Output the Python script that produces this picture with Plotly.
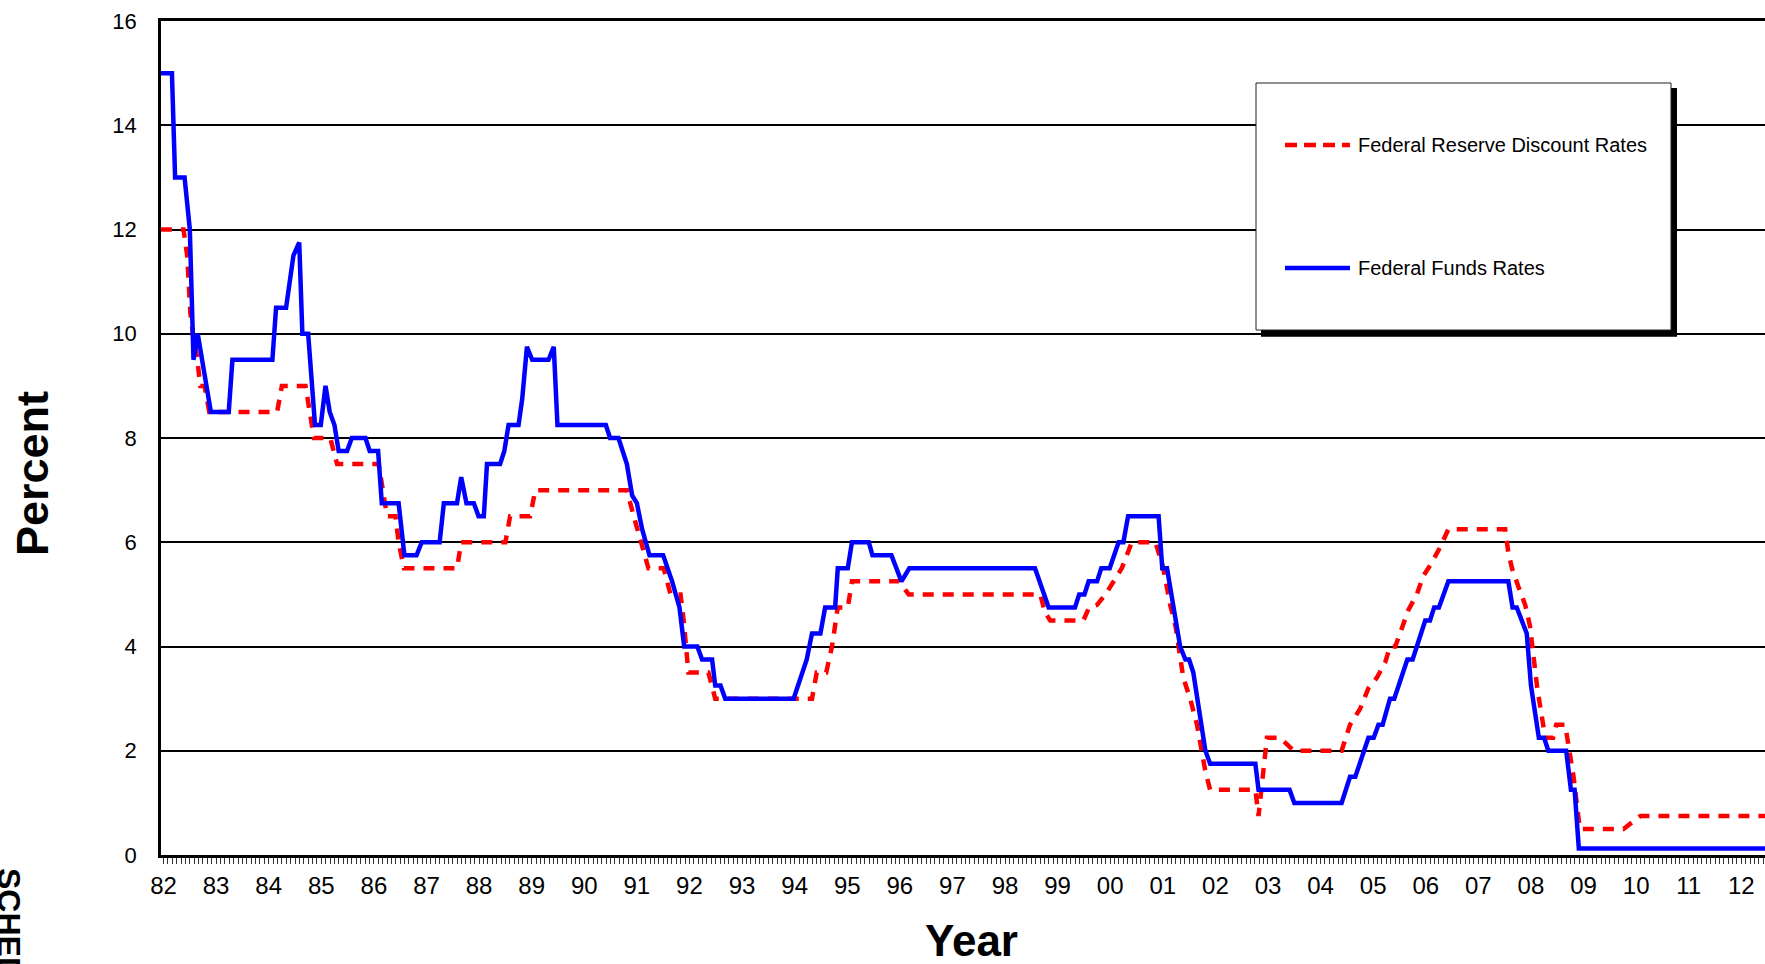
import plotly.graph_objects as go

# ---------------- data (decimal years, percent) ----------------
funds_years = [
    1981.95, 1982.16, 1982.22, 1982.40, 1982.50, 1982.57, 1982.65, 1982.90, 1983.24, 1983.31,
    1984.07, 1984.14, 1984.33, 1984.47, 1984.58, 1984.64, 1984.75, 1984.88, 1984.99, 1985.08,
    1985.16, 1985.25, 1985.33, 1985.49, 1985.58, 1985.84, 1985.92, 1986.08, 1986.15, 1986.47,
    1986.58, 1986.81, 1986.91, 1987.25, 1987.33, 1987.58, 1987.66, 1987.76, 1987.90, 1987.99,
    1988.09, 1988.15, 1988.40, 1988.48, 1988.56, 1988.75, 1988.82, 1988.91, 1989.01, 1989.32,
    1989.42, 1989.49, 1990.41, 1990.49, 1990.65, 1990.81, 1990.91, 1991.00, 1991.10, 1991.16,
    1991.24, 1991.50, 1991.67, 1991.81, 1991.90, 1992.15, 1992.24, 1992.43, 1992.49, 1992.59,
    1992.68, 1993.98, 1994.23, 1994.33, 1994.49, 1994.58, 1994.77, 1994.82, 1995.01, 1995.09,
    1995.41, 1995.48, 1995.84, 1996.03, 1996.18, 1998.57, 1998.83, 1999.33, 1999.41, 1999.51,
    1999.59, 1999.75, 1999.83, 1999.99, 2000.16, 2000.25, 2000.34, 2000.92, 2000.96, 2000.99,
    2001.08, 2001.33, 2001.43, 2001.50, 2001.58, 2001.81, 2001.90, 2002.76, 2002.82, 2003.41,
    2003.50, 2004.40, 2004.56, 2004.66, 2004.91, 2005.01, 2005.10, 2005.18, 2005.32, 2005.40,
    2005.65, 2005.75, 2005.99, 2006.08, 2006.16, 2006.25, 2006.43, 2007.57, 2007.65, 2007.73,
    2007.92, 2008.00, 2008.15, 2008.25, 2008.33, 2008.67, 2008.76, 2008.83, 2008.91, 2012.50,
]
funds_rates = [
    15.0, 15.0, 13.0, 13.0, 12.0, 9.5, 10.0, 8.5, 8.5, 9.5,
    9.5, 10.5, 10.5, 11.5, 11.75, 10.0, 10.0, 8.25, 8.25, 9.0,
    8.5, 8.25, 7.75, 7.75, 8.0, 8.0, 7.75, 7.75, 6.75, 6.75,
    5.75, 5.75, 6.0, 6.0, 6.75, 6.75, 7.25, 6.75, 6.75, 6.5,
    6.5, 7.5, 7.5, 7.75, 8.25, 8.25, 8.75, 9.75, 9.5, 9.5,
    9.75, 8.25, 8.25, 8.0, 8.0, 7.5, 6.9, 6.75, 6.25, 6.0,
    5.75, 5.75, 5.25, 4.75, 4.0, 4.0, 3.75, 3.75, 3.25, 3.25,
    3.0, 3.0, 3.75, 4.25, 4.25, 4.75, 4.75, 5.5, 5.5, 6.0,
    6.0, 5.75, 5.75, 5.25, 5.5, 5.5, 4.75, 4.75, 5.0, 5.0,
    5.25, 5.25, 5.5, 5.5, 6.0, 6.0, 6.5, 6.5, 6.0, 5.5,
    5.5, 4.0, 3.75, 3.75, 3.5, 2.0, 1.75, 1.75, 1.25, 1.25,
    1.0, 1.0, 1.5, 1.5, 2.25, 2.25, 2.5, 2.5, 3.0, 3.0,
    3.75, 3.75, 4.5, 4.5, 4.75, 4.75, 5.25, 5.25, 4.75, 4.75,
    4.25, 3.25, 2.25, 2.25, 2.0, 2.0, 1.25, 1.25, 0.125, 0.125,
]

discount_years = [
    1981.95, 1982.38, 1982.45, 1982.51, 1982.57, 1982.63, 1982.70, 1982.78, 1982.87, 1984.16,
    1984.25, 1984.70, 1984.78, 1984.86, 1985.17, 1985.30, 1986.09, 1986.17, 1986.25, 1986.41,
    1986.47, 1986.57, 1987.58, 1987.66, 1988.50, 1988.59, 1988.97, 1989.07, 1990.81, 1990.94,
    1991.07, 1991.22, 1991.51, 1991.64, 1991.83, 1991.89, 1991.98, 1992.36, 1992.49, 1994.33,
    1994.42, 1994.60, 1994.71, 1994.82, 1995.01, 1995.09, 1995.98, 1996.17, 1998.67, 1998.76,
    1998.86, 1999.49, 1999.60, 1999.75, 1999.91, 2000.06, 2000.22, 2000.41, 2000.86, 2001.01,
    2001.14, 2001.24, 2001.39, 2001.52, 2001.65, 2001.81, 2001.90, 2002.76, 2002.82, 2002.98,
    2003.23, 2003.49, 2004.40, 2004.56, 2004.75, 2004.91, 2005.07, 2005.23, 2005.32, 2005.42,
    2005.54, 2005.67, 2005.83, 2005.95, 2006.11, 2006.27, 2006.43, 2007.51, 2007.57, 2007.64,
    2007.76, 2007.89, 2007.98, 2008.05, 2008.12, 2008.20, 2008.27, 2008.42, 2008.48, 2008.65,
    2008.70, 2008.81, 2008.93, 2009.76, 2010.08, 2012.50,
]
discount_rates = [
    12.0, 12.0, 11.5, 10.4, 9.9, 9.6, 9.0, 9.0, 8.5, 8.5,
    9.0, 9.0, 8.5, 8.0, 8.0, 7.5, 7.5, 7.0, 6.5, 6.5,
    6.0, 5.5, 5.5, 6.0, 6.0, 6.5, 6.5, 7.0, 7.0, 6.5,
    6.0, 5.5, 5.5, 5.0, 5.0, 4.5, 3.5, 3.5, 3.0, 3.0,
    3.5, 3.5, 4.0, 4.75, 4.75, 5.25, 5.25, 5.0, 5.0, 4.65,
    4.5, 4.5, 4.75, 4.8, 5.0, 5.25, 5.5, 6.0, 6.0, 5.5,
    4.8, 4.4, 3.4, 3.0, 2.5, 1.6, 1.25, 1.25, 0.75, 2.25,
    2.25, 2.0, 2.0, 2.5, 2.8, 3.2, 3.4, 3.7, 4.0, 4.0,
    4.35, 4.7, 5.0, 5.35, 5.6, 5.9, 6.25, 6.25, 5.8, 5.5,
    5.15, 4.8, 4.4, 3.8, 3.2, 2.7, 2.25, 2.25, 2.5, 2.5,
    2.2, 1.5, 0.5, 0.5, 0.75, 0.75,
]

tick_years = list(range(1982, 2013))
tick_labels = ["82", "83", "84", "85", "86", "87", "88", "89", "90", "91",
               "92", "93", "94", "95", "96", "97", "98", "99", "00", "01",
               "02", "03", "04", "05", "06", "07", "08", "09", "10", "11", "12"]
y_ticks = [0, 2, 4, 6, 8, 10, 12, 14, 16]

series_names = ["Federal Reserve Discount Rates", "Federal Funds Rates"]

# ---------------- layout geometry (pixels) ----------------
W, H = 1765, 964
L, T, B = 161, 21, 855
FONT = "Liberation Sans, Arial, sans-serif"


def px(x):
    return (x - L) / (W - L)


def py(y):
    return (B - y) / (B - T)


fig = go.Figure()
fig.add_trace(go.Scatter(
    x=discount_years, y=discount_rates, mode="lines", name=series_names[0],
    line=dict(color="#FF0000", width=4.5, dash="11px,9px"), showlegend=False))
fig.add_trace(go.Scatter(
    x=funds_years, y=funds_rates, mode="lines", name=series_names[1],
    line=dict(color="#0000FF", width=4.5), showlegend=False))

shapes = [
    # legend shadow and box
    dict(type="rect", xref="paper", yref="paper", x0=px(1261), x1=px(1677), y0=py(336.7), y1=py(88),
         fillcolor="black", line=dict(width=0), layer="above"),
    dict(type="rect", xref="paper", yref="paper", x0=px(1256), x1=px(1671), y0=py(330), y1=py(83),
         fillcolor="white", line=dict(color="#222", width=1), layer="above"),
    # legend samples
    dict(type="line", xref="paper", yref="paper", x0=px(1285), x1=px(1350), y0=py(145), y1=py(145),
         line=dict(color="#FF0000", width=4.5, dash="12px,7px"), layer="above"),
    dict(type="line", xref="paper", yref="paper", x0=px(1285), x1=px(1350), y0=py(268), y1=py(268),
         line=dict(color="#0000FF", width=4.5), layer="above"),
]

annotations = [
    dict(text=series_names[0], xref="paper", yref="paper", x=px(1356), y=py(145),
         xanchor="left", yanchor="middle", showarrow=False, font=dict(family=FONT, size=20, color="black")),
    dict(text=series_names[1], xref="paper", yref="paper", x=px(1356), y=py(268),
         xanchor="left", yanchor="middle", showarrow=False, font=dict(family=FONT, size=20, color="black")),
    dict(text="<b>Percent</b>", xref="paper", yref="paper", x=px(33), y=py(474), textangle=-90,
         xanchor="center", yanchor="middle", showarrow=False, font=dict(family=FONT, size=45, color="black")),
    dict(text="<b>Year</b>", xref="paper", yref="paper", x=px(971), y=py(940),
         xanchor="center", yanchor="middle", showarrow=False, font=dict(family=FONT, size=44, color="black")),
    dict(text="<b>SCHEDULE</b>", xref="paper", yref="paper", x=px(9), y=py(866), textangle=90,
         xanchor="center", yanchor="top", showarrow=False, font=dict(family=FONT, size=32, color="black")),
]

fig.update_layout(
    width=W, height=H, autosize=False,
    margin=dict(l=L, r=0, t=T, b=H - B, pad=0),
    paper_bgcolor="white", plot_bgcolor="white",
    font=dict(family=FONT, color="black"),
    shapes=shapes, annotations=annotations,
    xaxis=dict(
        range=[1981.952, 2012.45], tickmode="array", tickvals=tick_years, ticktext=tick_labels,
        ticks="outside", ticklen=6, tickwidth=1, tickcolor="#333",
        minor=dict(tick0=1982, dtick=1 / 12, ticks="outside", ticklen=6, tickwidth=1,
                   tickcolor="#333", showgrid=False),
        showgrid=False, zeroline=False, showline=True, mirror=True, linecolor="black", linewidth=2.5,
        tickfont=dict(family=FONT, size=24, color="black"), ticklabelstandoff=1,
    ),
    yaxis=dict(
        range=[0, 16], tickmode="array", tickvals=y_ticks, ticks="",
        showgrid=True, gridcolor="black", gridwidth=2, zeroline=False,
        showline=True, linecolor="black", linewidth=2.5,
        tickfont=dict(family=FONT, size=22, color="black"), ticklabelstandoff=17,
    ),
)

fig.write_html("out.html", config={"displayModeBar": False},
               post_script="document.body.style.margin='0';")
